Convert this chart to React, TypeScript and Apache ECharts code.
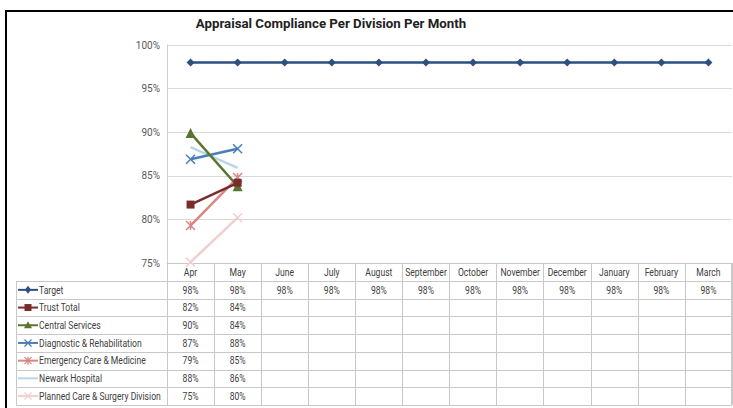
import React, { useEffect, useRef } from 'react';
import * as echarts from 'echarts';

const categories = ['Apr', 'May', 'June', 'July', 'August', 'September', 'October', 'November', 'December', 'January', 'February', 'March'];
const seriesNames = ['Target', 'Trust Total', 'Central Services', 'Diagnostic & Rehabilitation', 'Emergency Care & Medicine', 'Newark Hospital', 'Planned Care & Surgery Division'];
const target = [98, 98, 98, 98, 98, 98, 98, 98, 98, 98, 98, 98];
const trustTotal = [81.7, 84.2, null, null, null, null, null, null, null, null, null, null];
const centralServices = [89.9, 83.8, null, null, null, null, null, null, null, null, null, null];
const diagnostic = [86.9, 88.1, null, null, null, null, null, null, null, null, null, null];
const emergency = [79.3, 84.8, null, null, null, null, null, null, null, null, null, null];
const newark = [88.3, 85.9, null, null, null, null, null, null, null, null, null, null];
const planned = [75.1, 80.2, null, null, null, null, null, null, null, null, null, null];
const seriesValues = [target, trustTotal, centralServices, diagnostic, emergency, newark, planned];
const yMin = 75;
const yMax = 100;
const yStep = 5;
const title = 'Appraisal Compliance Per Division Per Month';

const FONT = 'Roboto, "Open Sans", sans-serif';
const TEXT_SCALE = 0.86;
const colors = ['#2C5080', '#7A2C2A', '#5B7430', '#4A7EBB', '#D88683', '#B9D5E8', '#F2CFCE'];
const X_PATH = 'path://M0,0L10,10M0,10L10,0';
const STAR_PATH = 'path://M0,0L10,10M0,10L10,0M5,0L5,10';
const symbols = ['diamond', 'rect', 'triangle', X_PATH, STAR_PATH, 'none', X_PATH];
const symbolSizes = [8, 8, 10, 9, 9, 0, 9];

function legendIcon(i: number, cx: number, cy: number): any[] {
  const c = colors[i];
  const out: any[] = [
    { type: 'line', shape: { x1: cx - 10, y1: cy, x2: cx + 10, y2: cy }, style: { stroke: c, lineWidth: 2 }, silent: true },
  ];
  const s = symbols[i];
  const ln = (x1: number, y1: number, x2: number, y2: number) => ({ type: 'line', shape: { x1, y1, x2, y2 }, style: { stroke: c, lineWidth: 1.3 }, silent: true });
  if (s === 'diamond') {
    out.push({ type: 'polygon', shape: { points: [[cx, cy - 4], [cx + 3, cy], [cx, cy + 4], [cx - 3, cy]] }, style: { fill: c }, silent: true });
  } else if (s === 'rect') {
    out.push({ type: 'rect', shape: { x: cx - 3.5, y: cy - 3.5, width: 7, height: 7 }, style: { fill: c }, silent: true });
  } else if (s === 'triangle') {
    out.push({ type: 'polygon', shape: { points: [[cx, cy - 4], [cx + 4, cy + 3], [cx - 4, cy + 3]] }, style: { fill: c }, silent: true });
  } else if (s === X_PATH) {
    out.push(ln(cx - 3.5, cy - 3.5, cx + 3.5, cy + 3.5), ln(cx - 3.5, cy + 3.5, cx + 3.5, cy - 3.5));
  } else if (s === STAR_PATH) {
    out.push(ln(cx - 3.5, cy - 3.5, cx + 3.5, cy + 3.5), ln(cx - 3.5, cy + 3.5, cx + 3.5, cy - 3.5), ln(cx, cy - 4, cx, cy + 4));
  }
  return out;
}

export default function App() {
  const ref = useRef<HTMLDivElement>(null);
  useEffect(() => {
    if (!ref.current) return;
    const chart = echarts.init(ref.current, undefined, { renderer: 'svg' });
    const series = seriesNames.map((name, i) => {
      const isPath = symbols[i].startsWith('path://');
      return {
        name,
        type: 'line',
        data: seriesValues[i],
        symbol: symbols[i],
        symbolSize: symbolSizes[i],
        showSymbol: symbols[i] !== 'none',
        connectNulls: false,
        lineStyle: { color: colors[i], width: 2.5 },
        itemStyle: isPath
          ? { color: 'rgba(0,0,0,0)', borderColor: colors[i], borderWidth: 1.5 }
          : { color: colors[i] },
        emphasis: { disabled: true },
        z: 10 - i,
      };
    });
    chart.setOption({
      animation: false,
      backgroundColor: '#fff',
      textStyle: { fontFamily: FONT },
      grid: { left: 167, right: 1, top: 45, bottom: 145, containLabel: false },
      xAxis: {
        type: 'category',
        data: categories,
        boundaryGap: true,
        axisLine: { show: true, lineStyle: { color: '#C8C8C8', width: 1 } },
        axisTick: { show: true, inside: false, interval: 0, length: 142, lineStyle: { color: '#C8C8C8' } },
        axisLabel: { show: false },
        splitLine: { show: false },
      },
      yAxis: {
        type: 'value',
        min: yMin,
        max: yMax,
        interval: yStep,
        axisLine: { show: true, lineStyle: { color: '#D0D0D0' } },
        axisTick: { show: false },
        axisLabel: { color: '#595959', fontSize: 10, margin: 7, formatter: (v: number) => `${v}%`, fontFamily: FONT },
        splitLine: { show: true, lineStyle: { color: '#D9D9D9', width: 1 } },
      },
      series,
    });

    const y0 = chart.convertToPixel({ yAxisIndex: 0 }, yMin) as number;
    const leftEdge = chart.convertToPixel({ xAxisIndex: 0 }, 0) as number;
    const step = (chart.convertToPixel({ xAxisIndex: 0 }, 1) as number) - leftEdge;
    const gridLeft = leftEdge - step / 2;
    const gridRight = gridLeft + step * categories.length;
    const headerH = 18;
    const rowH = 17.7;
    const tableTop = y0 + headerH;
    const tableLeft = 16;
    const lineColor = '#C8C8C8';
    const txt = (text: string, x: number, y: number, align: string) => ({
      type: 'text',
      x,
      y,
      scaleX: TEXT_SCALE,
      style: { text, fill: '#404040', fontSize: 10, fontFamily: FONT, align, verticalAlign: 'middle' },
      silent: true,
    });
    const graphics: any[] = [];
    for (let r = 0; r <= seriesNames.length; r++) {
      const y = Math.round(tableTop + r * rowH) + 0.5;
      graphics.push({ type: 'line', shape: { x1: tableLeft, y1: y, x2: gridRight, y2: y }, style: { stroke: lineColor, lineWidth: 1 }, silent: true });
    }
    graphics.push({ type: 'line', shape: { x1: tableLeft + 0.5, y1: tableTop, x2: tableLeft + 0.5, y2: tableTop + rowH * seriesNames.length }, style: { stroke: lineColor, lineWidth: 1 }, silent: true });
    graphics.push({ type: 'line', shape: { x1: gridRight - 0.5, y1: y0, x2: gridRight - 0.5, y2: tableTop + rowH * seriesNames.length }, style: { stroke: lineColor, lineWidth: 1 }, silent: true });
    categories.forEach((cat, c) => {
      const x = chart.convertToPixel({ xAxisIndex: 0 }, c) as number;
      graphics.push(txt(cat, x, y0 + headerH / 2, 'center'));
    });
    seriesNames.forEach((name, r) => {
      const cy = tableTop + r * rowH + rowH / 2;
      graphics.push(...legendIcon(r, 28, cy));
      graphics.push(txt(name, 39, cy, 'left'));
    });
    seriesValues.forEach((vals, r) => {
      vals.forEach((v, c) => {
        if (v === null || v === undefined) return;
        const x = chart.convertToPixel({ xAxisIndex: 0 }, c) as number;
        graphics.push(txt(`${Math.round(v)}%`, x, tableTop + r * rowH + rowH / 2, 'center'));
      });
    });
    graphics.push({
      type: 'text',
      x: 331,
      y: 24,
      scaleX: 1.02,
      style: { text: title, fill: '#222', fontSize: 13, fontWeight: 'bold', fontFamily: FONT, align: 'center', verticalAlign: 'middle' },
      silent: true,
    });
    graphics.push({
      type: 'rect',
      shape: { x: 6, y: 11, width: 760, height: 430 },
      style: { fill: 'none', stroke: '#000', lineWidth: 2 },
      silent: true,
      z: 100,
    });
    chart.setOption({ graphic: graphics });
    return () => chart.dispose();
  }, []);
  return <div ref={ref} style={{ position: 'fixed', left: 0, top: 0, width: 733, height: 408 }} />;
}
